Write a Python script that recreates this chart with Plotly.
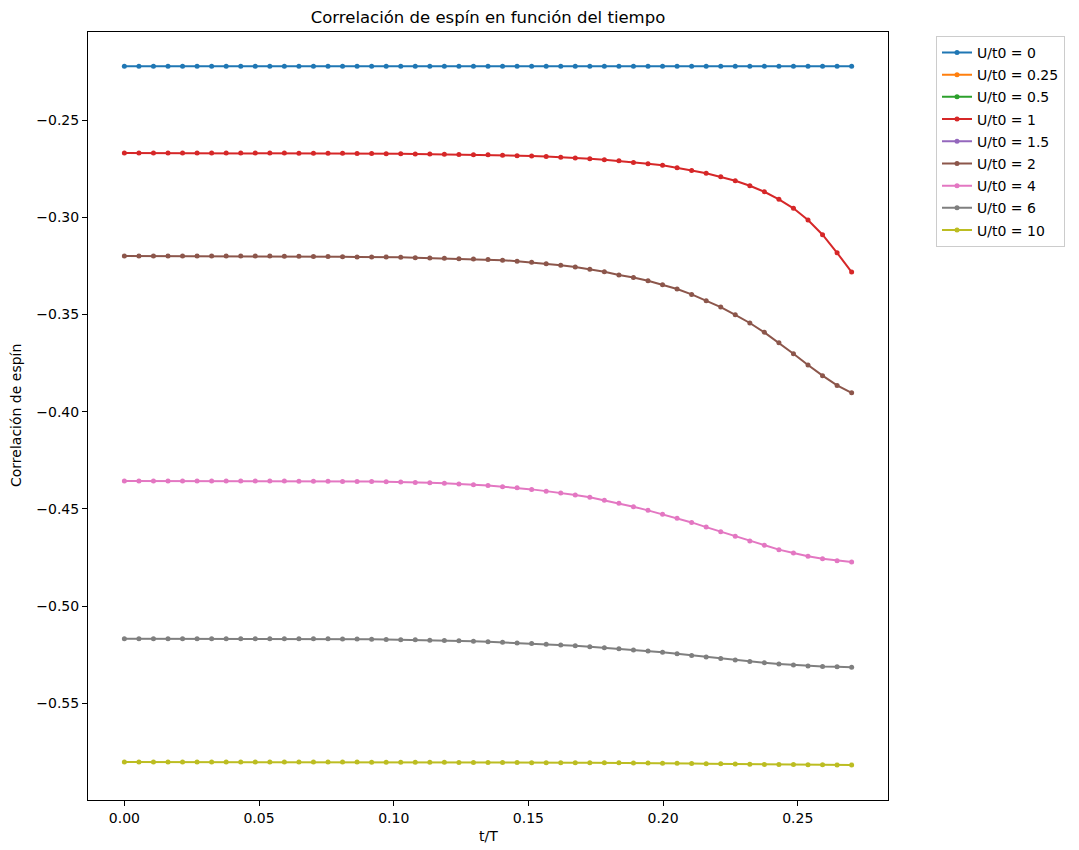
import plotly.graph_objects as go

# Time grid t/T (51 samples)
t = [0.0000, 0.0054, 0.0108, 0.0162, 0.0216, 0.0270, 0.0324, 0.0378, 0.0432, 0.0486,
     0.0540, 0.0594, 0.0648, 0.0702, 0.0756, 0.0810, 0.0864, 0.0918, 0.0972, 0.1026,
     0.1080, 0.1134, 0.1188, 0.1242, 0.1296, 0.1350, 0.1404, 0.1458, 0.1512, 0.1566,
     0.1620, 0.1674, 0.1728, 0.1782, 0.1836, 0.1890, 0.1944, 0.1998, 0.2052, 0.2106,
     0.2160, 0.2214, 0.2268, 0.2322, 0.2376, 0.2430, 0.2484, 0.2538, 0.2592, 0.2646,
     0.2700]

u_labels = ["0", "0.25", "0.5", "1", "1.5", "2", "4", "6", "10"]

corr_u0 = [-0.2223] * 51

# runs that leave no visible trace on the axes
corr_u025 = [None] * 51
corr_u05 = [None] * 51
corr_u15 = [None] * 51

corr_u1 = [-0.2670, -0.2670, -0.2670, -0.2670, -0.2670, -0.2670, -0.2670, -0.2670, -0.2670, -0.2670,
           -0.2670, -0.2670, -0.2671, -0.2671, -0.2671, -0.2671, -0.2672, -0.2672, -0.2673, -0.2673,
           -0.2674, -0.2675, -0.2676, -0.2677, -0.2678, -0.2679, -0.2681, -0.2683, -0.2685, -0.2688,
           -0.2691, -0.2695, -0.2699, -0.2704, -0.2710, -0.2718, -0.2725, -0.2733, -0.2745, -0.2759,
           -0.2774, -0.2792, -0.2812, -0.2838, -0.2869, -0.2908, -0.2954, -0.3014, -0.3090, -0.3183,
           -0.3282]

corr_u2 = [-0.3200, -0.3200, -0.3200, -0.3200, -0.3200, -0.3200, -0.3200, -0.3200, -0.3200, -0.3200,
           -0.3200, -0.3201, -0.3201, -0.3202, -0.3202, -0.3203, -0.3204, -0.3204, -0.3205, -0.3206,
           -0.3208, -0.3210, -0.3211, -0.3213, -0.3215, -0.3218, -0.3221, -0.3226, -0.3232, -0.3239,
           -0.3247, -0.3256, -0.3267, -0.3280, -0.3297, -0.3310, -0.3327, -0.3347, -0.3369, -0.3397,
           -0.3430, -0.3462, -0.3502, -0.3544, -0.3592, -0.3646, -0.3702, -0.3760, -0.3815, -0.3865,
           -0.3903]

corr_u4 = [-0.4357, -0.4357, -0.4357, -0.4357, -0.4357, -0.4357, -0.4357, -0.4357, -0.4357, -0.4357,
           -0.4357, -0.4357, -0.4358, -0.4358, -0.4358, -0.4359, -0.4359, -0.4360, -0.4361, -0.4362,
           -0.4364, -0.4366, -0.4369, -0.4372, -0.4376, -0.4380, -0.4386, -0.4392, -0.4400, -0.4409,
           -0.4418, -0.4429, -0.4441, -0.4456, -0.4471, -0.4489, -0.4508, -0.4528, -0.4549, -0.4570,
           -0.4594, -0.4618, -0.4641, -0.4666, -0.4688, -0.4710, -0.4727, -0.4744, -0.4757, -0.4767,
           -0.4774]

corr_u6 = [-0.5168, -0.5168, -0.5168, -0.5168, -0.5168, -0.5168, -0.5168, -0.5168, -0.5168, -0.5168,
           -0.5168, -0.5168, -0.5168, -0.5169, -0.5169, -0.5170, -0.5170, -0.5171, -0.5172, -0.5173,
           -0.5174, -0.5176, -0.5177, -0.5179, -0.5181, -0.5184, -0.5187, -0.5190, -0.5193, -0.5197,
           -0.5201, -0.5205, -0.5210, -0.5215, -0.5220, -0.5226, -0.5232, -0.5238, -0.5246, -0.5254,
           -0.5262, -0.5270, -0.5278, -0.5285, -0.5292, -0.5298, -0.5303, -0.5308, -0.5311, -0.5313,
           -0.5315]

corr_u10 = [-0.5803, -0.5803, -0.5803, -0.5803, -0.5803, -0.5803, -0.5803, -0.5803, -0.5803, -0.5803,
            -0.5803, -0.5803, -0.5803, -0.5803, -0.5803, -0.5803, -0.5803, -0.5804, -0.5804, -0.5804,
            -0.5804, -0.5804, -0.5804, -0.5805, -0.5805, -0.5805, -0.5805, -0.5805, -0.5806, -0.5806,
            -0.5806, -0.5806, -0.5807, -0.5807, -0.5807, -0.5808, -0.5808, -0.5809, -0.5809, -0.5810,
            -0.5811, -0.5812, -0.5813, -0.5814, -0.5815, -0.5815, -0.5816, -0.5817, -0.5817, -0.5818,
            -0.5818]

series = [corr_u0, corr_u025, corr_u05, corr_u1, corr_u15, corr_u2, corr_u4, corr_u6, corr_u10]
colors = ["#1f77b4", "#ff7f0e", "#2ca02c", "#d62728", "#9467bd",
          "#8c564b", "#e377c2", "#7f7f7f", "#bcbd22"]

FONT = "DejaVu Sans"

fig = go.Figure()
for lab, vals, col in zip(u_labels, series, colors):
    fig.add_trace(go.Scatter(
        x=t, y=vals, mode="lines+markers", name=f"U/t0 = {lab}",
        legendgroup=lab,
        line=dict(color=col, width=2),
        marker=dict(color=col, size=5),
    ))

axis_common = dict(
    showline=True, linecolor="black", linewidth=1, mirror=True,
    ticks="outside", ticklen=5, tickwidth=1, tickcolor="black",
    showgrid=False, zeroline=False,
    tickfont=dict(family=FONT, size=14, color="black"),
)

fig.update_layout(
    width=1079, height=850,
    margin=dict(l=88, r=191, t=32, b=50),
    paper_bgcolor="white", plot_bgcolor="white",
    font=dict(family=FONT, size=14, color="black"),
    title=dict(text="Correlación de espín en función del tiempo",
               x=(88 + 400) / 1079, xanchor="center",
               y=1 - 17 / 850, yanchor="middle",
               font=dict(family=FONT, size=16.5, color="black")),
    xaxis=dict(range=[-0.0135, 0.2835], tickvals=[0, 0.05, 0.10, 0.15, 0.20, 0.25],
               tickformat=".2f", **axis_common),
    yaxis=dict(range=[-0.5998, -0.2047],
               tickvals=[-0.55, -0.50, -0.45, -0.40, -0.35, -0.30, -0.25],
               tickformat=".2f", **axis_common),
    legend=dict(x=1.06, y=0.995, xanchor="left", yanchor="top",
                bordercolor="#cccccc", borderwidth=1, bgcolor="white",
                font=dict(family=FONT, size=14, color="black"),
                traceorder="grouped", tracegroupgap=1),
    annotations=[
        dict(text="t/T", xref="paper", yref="paper", x=0.5, y=-36 / 768,
             xanchor="center", yanchor="middle", showarrow=False,
             font=dict(family=FONT, size=14, color="black")),
        dict(text="Correlación de espín", xref="paper", yref="paper",
             x=-72 / 800, y=0.5, xanchor="center", yanchor="middle",
             textangle=-90, showarrow=False,
             font=dict(family=FONT, size=14, color="black")),
    ],
)

fig.write_html("out.html")
